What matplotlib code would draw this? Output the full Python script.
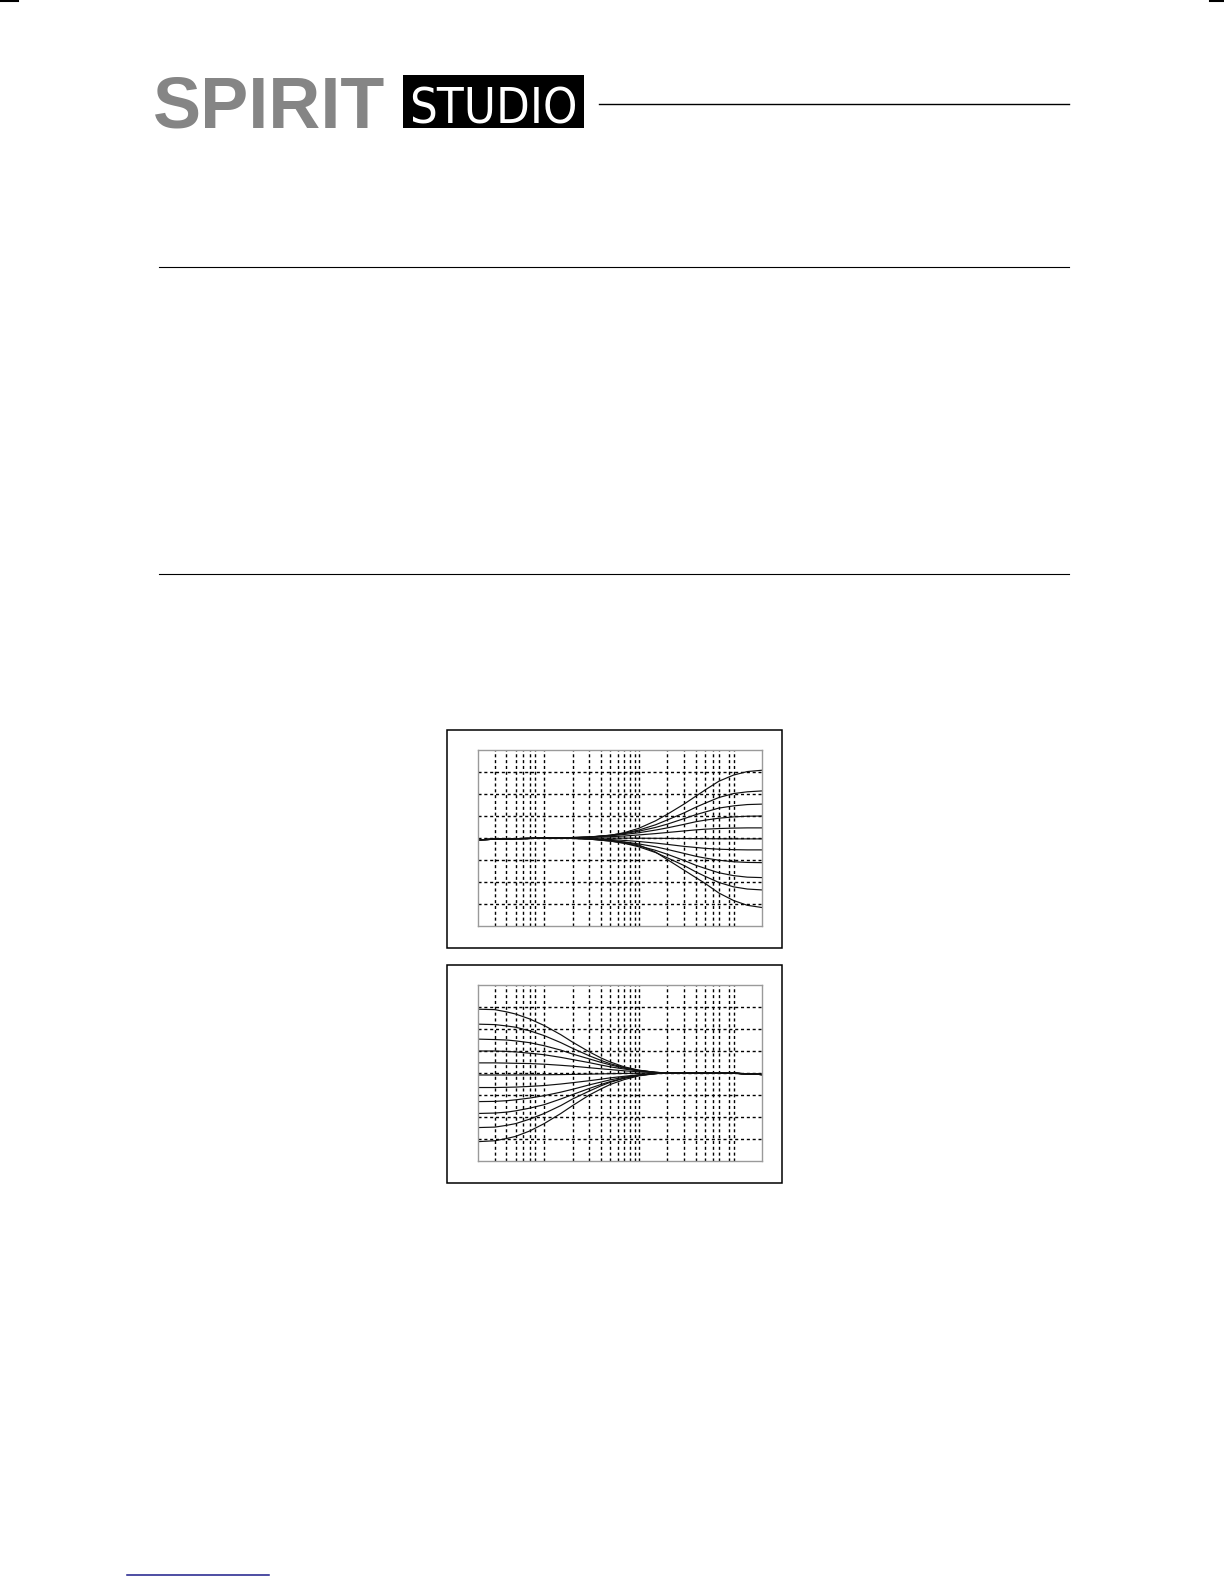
import matplotlib
matplotlib.use("Agg")
import matplotlib.pyplot as plt
from matplotlib.lines import Line2D
from matplotlib.patches import Rectangle

W, H = 1224, 1584

# treble shelf curves (dB)
treble_freqs = [20, 50, 100, 200, 300, 500, 700, 1000, 1500, 2000, 3000, 4000, 5000, 7000, 10000, 14000, 20000]
treble_curves = [
    [-0.4, -0.15, -0.05, 0.1, 0.2, 0.6, 1.2, 2.2, 3.9, 5.4, 7.7, 9.5, 10.9, 12.9, 14.3, 15.1, 15.4],
    [-0.4, -0.15, -0.05, 0.1, 0.2, 0.65, 1.1, 1.8, 3.0, 4.1, 5.7, 7.0, 7.9, 9.2, 10.1, 10.5, 10.7],
    [-0.4, -0.15, -0.05, 0.1, 0.25, 0.6, 1.0, 1.55, 2.4, 3.15, 4.4, 5.3, 5.9, 6.8, 7.3, 7.6, 7.7],
    [-0.4, -0.15, -0.05, 0.05, 0.2, 0.5, 0.8, 1.2, 1.8, 2.3, 3.1, 3.7, 4.05, 4.5, 4.8, 4.95, 5.0],
    [-0.4, -0.15, -0.05, 0.05, 0.15, 0.3, 0.45, 0.7, 1.0, 1.25, 1.6, 1.85, 2.0, 2.15, 2.25, 2.3, 2.3],
    [-0.4, -0.15, -0.05, 0.0, -0.01, -0.02, -0.03, -0.05, -0.07, -0.09, -0.12, -0.14, -0.16, -0.18, -0.2, -0.2, -0.2],
    [-0.4, -0.15, -0.05, -0.05, -0.15, -0.35, -0.55, -0.8, -1.15, -1.45, -1.9, -2.15, -2.35, -2.55, -2.65, -2.7, -2.7],
    [-0.4, -0.15, -0.05, -0.05, -0.2, -0.55, -0.9, -1.35, -2.0, -2.6, -3.5, -4.15, -4.55, -5.05, -5.4, -5.55, -5.6],
    [-0.4, -0.15, -0.05, -0.1, -0.25, -0.7, -1.15, -1.8, -2.8, -3.7, -5.1, -6.2, -6.9, -7.9, -8.55, -8.9, -9.0],
    [-0.4, -0.15, -0.05, -0.1, -0.25, -0.7, -1.2, -2.0, -3.3, -4.5, -6.25, -7.7, -8.7, -10.1, -11.1, -11.6, -11.8],
    [-0.4, -0.15, -0.05, -0.05, -0.15, -0.5, -0.95, -1.6, -3.2, -4.9, -7.3, -9.0, -10.3, -12.5, -14.2, -15.3, -15.8],
]

# bass shelf curves (dB)
bass_freqs = [20, 30, 40, 50, 70, 100, 150, 200, 300, 400, 500, 700, 1000, 1500, 2000, 5000, 10000, 20000]
bass_curves = [
    [14.5, 14.4, 13.9, 13.4, 12.3, 10.8, 8.7, 7.0, 4.8, 3.4, 2.5, 1.4, 0.65, 0.15, 0, 0, -0.05, -0.35],
    [11.1, 11.0, 10.7, 10.4, 9.6, 8.5, 6.9, 5.6, 3.9, 2.85, 2.1, 1.25, 0.6, 0.15, 0, 0, -0.05, -0.35],
    [7.7, 7.6, 7.5, 7.3, 6.9, 6.2, 5.2, 4.3, 3.2, 2.4, 1.85, 1.1, 0.55, 0.15, 0, 0, -0.05, -0.35],
    [5.0, 5.0, 4.9, 4.8, 4.5, 4.15, 3.55, 3.05, 2.35, 1.8, 1.4, 0.9, 0.45, 0.12, 0, 0, -0.05, -0.35],
    [2.3, 2.3, 2.25, 2.2, 2.15, 2.0, 1.75, 1.55, 1.2, 0.95, 0.78, 0.5, 0.28, 0.09, 0, 0, -0.05, -0.35],
    [-0.45, -0.45, -0.45, -0.44, -0.42, -0.4, -0.36, -0.32, -0.26, -0.2, -0.16, -0.1, -0.05, 0, 0, 0, -0.05, -0.35],
    [-3.3, -3.3, -3.25, -3.2, -3.05, -2.85, -2.5, -2.2, -1.75, -1.4, -1.1, -0.75, -0.4, -0.12, 0, 0, -0.05, -0.35],
    [-6.5, -6.45, -6.3, -6.1, -5.7, -5.15, -4.35, -3.7, -2.7, -2.05, -1.55, -0.95, -0.45, -0.12, 0, 0, -0.05, -0.35],
    [-9.2, -9.1, -8.9, -8.6, -8.0, -7.2, -5.9, -4.9, -3.5, -2.6, -1.95, -1.15, -0.55, -0.12, 0, 0, -0.05, -0.35],
    [-12.4, -12.3, -11.9, -11.5, -10.5, -9.2, -7.4, -5.9, -4.1, -2.9, -2.1, -1.2, -0.55, -0.12, 0, 0, -0.05, -0.35],
    [-15.6, -15.4, -14.9, -14.4, -13.2, -11.5, -9.2, -7.4, -5.0, -3.6, -2.6, -1.5, -0.65, -0.15, 0, 0, -0.05, -0.35],
]

grid_freqs = [30, 40, 50, 60, 70, 80, 100, 200, 300, 400, 500, 600, 700, 800, 900, 1000,
              2000, 3000, 4000, 5000, 6000, 7000, 9000, 10000]
grid_db = [-15, -10, -5, 0, 5, 10, 15]

fig = plt.figure(figsize=(W / 100, H / 100), dpi=100)


def fx(x):
    return x / W


def fy(y):
    return 1 - y / H


def hline(x0, x1, y, color="black", lw=0.8):
    fig.add_artist(Line2D([fx(x0), fx(x1)], [fy(y), fy(y)], transform=fig.transFigure,
                          color=color, lw=lw))


def box(x0, y0, x1, y1, **kw):
    fig.add_artist(Rectangle((fx(x0), fy(y1)), fx(x1) - fx(x0), fy(y0) - fy(y1),
                             transform=fig.transFigure, **kw))


def fit_width(t, width_px):
    # shrink/grow a text so that its drawn width matches the logo box
    r = fig.canvas.get_renderer()
    bb = t.get_window_extent(renderer=r)
    t.set_fontsize(t.get_fontsize() * width_px / bb.width)


def eq_chart(px0, py0, px1, py1, freqs, curves):
    ax = fig.add_axes([fx(px0), fy(py1), fx(px1) - fx(px0), fy(py0) - fy(py1)])
    ax.set_xscale("log")
    ax.set_xlim(20, 20000)
    ax.set_ylim(-20, 20)
    for f in grid_freqs:
        ax.axvline(f, color="black", lw=1.0, ls=(0, (2.2, 2.0)))
    for d in grid_db:
        ax.axhline(d, color="black", lw=1.0, ls=(0, (2.2, 2.0)))
    for c in curves:
        ax.plot(freqs, c, color="#111111", lw=0.85)
    ax.set_xticks([])
    ax.set_yticks([])
    ax.minorticks_off()
    for s in ax.spines.values():
        s.set_color("#9a9a9a")
        s.set_linewidth(1.0)
    return ax


# header
spirit = fig.text(fx(153), fy(128), "SPIRIT", fontsize=53, fontweight="bold", color="#858585",
                  family=["Liberation Sans", "DejaVu Sans"], ha="left", va="baseline")
fit_width(spirit, 232)
box(403, 75, 584, 128, facecolor="black", edgecolor="none")
studio = fig.text(fx(493.5), fy(124), "STUDIO", fontsize=31, color="white",
                  family=["Liberation Sans Narrow", "DejaVu Sans"], fontstretch="condensed",
                  ha="center", va="baseline")
fit_width(studio, 168)
hline(599, 1069, 104, lw=1.0)

# section rules
hline(159, 1069, 267, lw=0.8)
hline(159, 1069, 574, lw=0.8)

# charts with frames
box(447, 730, 782, 948, facecolor="none", edgecolor="black", lw=1.1)
eq_chart(478, 750, 762, 926, treble_freqs, treble_curves)
box(447, 965, 782, 1183, facecolor="none", edgecolor="black", lw=1.1)
eq_chart(478, 985, 762, 1161, bass_freqs, bass_curves)

# crop marks and footer link line
hline(0, 18, 0.8, lw=1.5)
hline(1210, 1224, 0.8, lw=1.5)
hline(127, 269, 1575, color="#1c1c8a", lw=1.1)

fig.savefig("out.png", dpi=100)
